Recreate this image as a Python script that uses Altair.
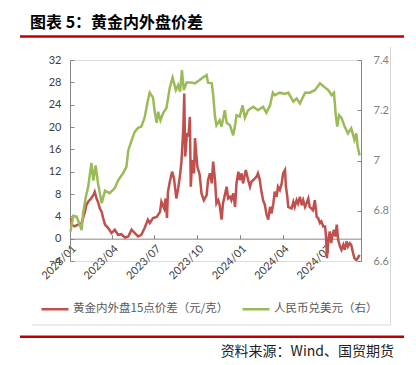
import altair as alt
import pandas as pd

TITLE = "图表 5：黄金内外盘价差"
SOURCE = "资料来源：Wind、国贸期货"
SERIES = ["黄金内外盘15点价差（元/克）", "人民币兑美元（右）"]
COLORS = ["#C0504D", "#9BBB59"]

LEFT_TICKS = [-4, 0, 4, 8, 12, 16, 20, 24, 28, 32]
RIGHT_TICKS = [6.6, 6.8, 7.0, 7.2, 7.4]
X_TICKS = [(2023, 1), (2023, 4), (2023, 7), (2023, 10), (2024, 1), (2024, 4), (2024, 7)]
X_DOMAIN = [(2023, 1, 1), (2024, 9, 16)]

spread_dates = [
    "2023-01-03", "2023-01-05", "2023-01-11", "2023-01-18", "2023-01-26", "2023-01-29",
    "2023-02-02", "2023-02-05", "2023-02-09", "2023-02-15", "2023-02-20", "2023-02-23",
    "2023-02-27", "2023-03-02", "2023-03-06", "2023-03-10", "2023-03-13", "2023-03-17",
    "2023-03-24", "2023-03-31", "2023-04-07", "2023-04-14", "2023-04-21", "2023-04-29",
    "2023-05-06", "2023-05-13", "2023-05-20", "2023-05-27", "2023-06-03", "2023-06-10",
    "2023-06-17", "2023-06-21", "2023-06-28", "2023-07-06", "2023-07-13", "2023-07-16",
    "2023-07-22", "2023-07-25", "2023-07-28", "2023-07-30", "2023-08-03", "2023-08-08",
    "2023-08-12", "2023-08-17", "2023-08-21", "2023-08-25", "2023-08-28", "2023-09-01",
    "2023-09-03", "2023-09-05", "2023-09-09", "2023-09-12", "2023-09-15", "2023-09-17",
    "2023-09-20", "2023-09-24", "2023-09-26", "2023-10-01", "2023-10-06", "2023-10-10",
    "2023-10-15", "2023-10-21", "2023-10-24", "2023-10-28", "2023-11-01", "2023-11-04",
    "2023-11-08", "2023-11-11", "2023-11-15", "2023-11-18", "2023-11-22", "2023-11-25",
    "2023-11-29", "2023-12-03", "2023-12-06", "2023-12-10", "2023-12-13", "2023-12-17",
    "2023-12-21", "2023-12-24", "2023-12-28", "2023-12-31", "2024-01-04", "2024-01-07",
    "2024-01-13", "2024-01-18", "2024-01-22", "2024-01-25", "2024-01-29", "2024-02-05",
    "2024-02-08", "2024-02-12", "2024-02-15", "2024-02-19", "2024-02-23", "2024-02-26",
    "2024-03-01", "2024-03-05", "2024-03-08", "2024-03-12", "2024-03-15", "2024-03-19",
    "2024-03-22", "2024-03-26", "2024-03-30", "2024-04-02", "2024-04-06", "2024-04-08",
    "2024-04-11", "2024-04-13", "2024-04-20", "2024-04-24", "2024-04-27", "2024-05-01",
    "2024-05-04", "2024-05-08", "2024-05-12", "2024-05-15", "2024-05-19", "2024-05-22",
    "2024-05-26", "2024-05-29", "2024-06-05", "2024-06-09", "2024-06-13", "2024-06-16",
    "2024-06-20", "2024-06-23", "2024-06-27", "2024-07-01", "2024-07-03", "2024-07-05",
    "2024-07-08", "2024-07-11", "2024-07-14", "2024-07-17", "2024-07-20", "2024-07-23",
    "2024-07-26", "2024-07-29", "2024-08-02", "2024-08-05", "2024-08-09", "2024-08-12",
    "2024-08-16", "2024-08-19", "2024-08-23", "2024-08-26", "2024-08-30", "2024-09-02",
    "2024-09-06", "2024-09-09", "2024-09-13",
]
spread_values = [
    3.7, 2.5, 2.2, 2.5, 2.8, 3.7,
    4.8, 6.0, 6.6, 7.2, 7.8, 8.4,
    7.2, 6.6, 5.4, 4.8, 3.7, 2.5,
    1.9, 1.0, 1.6, 0.7, 0.8, 0.2,
    0.4, 1.6, 1.0, 0.4, 0.7, 1.9,
    3.4, 2.8, 3.7, 3.9, 4.8, 6.6,
    5.4, 7.2, 3.7, 8.4, 10.2, 12.0,
    10.8, 7.2, 9.0, 11.4, 13.8, 19.8,
    26.0, 14.7, 18.9, 18.3, 21.8, 9.3,
    14.1, 11.7, 18.0, 12.9, 11.5, 8.1,
    6.9, 7.8, 10.5, 11.7, 9.9, 13.8,
    10.5, 6.3, 6.9, 6.0, 3.4, 6.3,
    7.8, 9.3, 7.2, 7.5, 6.9, 8.1,
    5.7, 9.9, 12.0, 10.5, 11.7, 9.9,
    12.3, 10.5, 9.3, 10.2, 10.5, 11.1,
    11.7, 10.5, 8.7, 6.9, 6.0, 4.5,
    3.4, 5.7, 4.5, 6.3, 8.4, 7.5,
    9.3, 8.7, 9.9, 11.7, 12.3, 9.3,
    7.5, 5.7, 5.4, 6.6, 5.7, 6.9,
    6.3, 7.5, 6.0, 6.9, 5.7, 6.3,
    7.2, 5.7, 5.1, 6.9, 3.9, 3.7,
    2.8, 3.1, 2.2, 2.2, 0.4, -3.5,
    -0.2, 1.3, -0.8, 0.7, 1.6, 0.4,
    2.5, -0.2, -1.4, -2.0, -1.1, -2.0,
    -0.5, -1.4, -0.8, -1.1, -2.6, -3.5,
    -3.8, -3.5, -2.9,
]

cny_dates = [
    "2023-01-02", "2023-01-08", "2023-01-15", "2023-01-22", "2023-01-26", "2023-01-29",
    "2023-02-04", "2023-02-09", "2023-02-16", "2023-02-20", "2023-02-25", "2023-03-02",
    "2023-03-10", "2023-03-17", "2023-03-27", "2023-04-07", "2023-04-14", "2023-04-25",
    "2023-05-02", "2023-05-06", "2023-05-13", "2023-05-20", "2023-05-27", "2023-06-03",
    "2023-06-10", "2023-06-17", "2023-06-21", "2023-06-28", "2023-07-02", "2023-07-06",
    "2023-07-09", "2023-07-14", "2023-07-20", "2023-07-27", "2023-08-03", "2023-08-09",
    "2023-08-16", "2023-08-21", "2023-08-25", "2023-08-29", "2023-09-02", "2023-09-08",
    "2023-09-19", "2023-09-26", "2023-10-06", "2023-10-13", "2023-10-21", "2023-10-24",
    "2023-11-01", "2023-11-04", "2023-11-08", "2023-11-11", "2023-11-18", "2023-11-22",
    "2023-11-29", "2023-12-03", "2023-12-10", "2023-12-17", "2023-12-21", "2023-12-24",
    "2023-12-31", "2024-01-06", "2024-01-11", "2024-01-18", "2024-01-29", "2024-02-08",
    "2024-02-19", "2024-02-26", "2024-03-05", "2024-03-11", "2024-03-15", "2024-03-26",
    "2024-04-06", "2024-04-13", "2024-04-24", "2024-05-01", "2024-05-08", "2024-05-19",
    "2024-05-29", "2024-06-09", "2024-06-20", "2024-07-01", "2024-07-08", "2024-07-15",
    "2024-07-20", "2024-07-24", "2024-07-27", "2024-07-31", "2024-08-05", "2024-08-12",
    "2024-08-19", "2024-08-26", "2024-09-02", "2024-09-06", "2024-09-09", "2024-09-13",
]
cny_values = [
    6.717, 6.780, 6.777, 6.743, 6.723, 6.790,
    6.856, 6.896, 6.990, 6.920, 6.980, 6.910,
    6.830, 6.880, 6.870, 6.890, 6.920, 6.950,
    6.975, 7.040, 7.080, 7.115, 7.130, 7.135,
    7.170, 7.240, 7.270, 7.250, 7.190, 7.150,
    7.194, 7.160, 7.190, 7.210, 7.290, 7.330,
    7.280, 7.300, 7.274, 7.360, 7.280, 7.310,
    7.310, 7.307, 7.320, 7.330, 7.340, 7.310,
    7.307, 7.260, 7.174, 7.140, 7.160, 7.135,
    7.200, 7.150, 7.140, 7.100, 7.140, 7.180,
    7.175, 7.220, 7.170, 7.200, 7.214, 7.200,
    7.214, 7.190, 7.220, 7.270, 7.260, 7.270,
    7.265, 7.270, 7.234, 7.247, 7.227, 7.270,
    7.270, 7.280, 7.307, 7.290, 7.280, 7.260,
    7.270, 7.180, 7.135, 7.180, 7.170, 7.135,
    7.108, 7.128, 7.082, 7.108, 7.055, 7.020,
]

spread_df = pd.DataFrame({"date": pd.to_datetime(spread_dates), "value": spread_values,
                          "series": SERIES[0]})
cny_df = pd.DataFrame({"date": pd.to_datetime(cny_dates), "value": cny_values,
                       "series": SERIES[1]})

W, H = 291, 201
ZERO_FROM_TOP = H * (LEFT_TICKS[-1] / (LEFT_TICKS[-1] - LEFT_TICKS[0]))
AXIS_GREY = "#868686"
LABEL_FONT = "Lato"
CJK = "Noto Sans CJK SC"

x_vals = [alt.DateTime(year=y, month=m, date=1) for y, m in X_TICKS]
x_scale = alt.Scale(domain=[alt.DateTime(year=y, month=m, date=d) for y, m, d in X_DOMAIN])
left_scale = alt.Scale(domain=[LEFT_TICKS[0], LEFT_TICKS[-1]], nice=False, zero=False)
right_scale = alt.Scale(domain=[RIGHT_TICKS[0], RIGHT_TICKS[-1]], nice=False, zero=False)
color_scale = alt.Scale(domain=SERIES, range=COLORS)

legend = alt.Legend(
    orient="none", legendX=-30, legendY=234, direction="horizontal", title=None,
    symbolType="stroke", symbolSize=729, symbolStrokeWidth=2.5, labelOffset=3,
    columnPadding=8, labelFont=CJK, labelFontSize=11.5, labelColor="#595959", padding=0,
    labelLimit=400,
)

red = alt.Chart(spread_df).mark_line(strokeWidth=2.5).encode(
    x=alt.X("date:T", scale=x_scale, axis=alt.Axis(
        orient="bottom", offset=-(H - ZERO_FROM_TOP), domain=False, ticks=False,
        labelAngle=-45, format="%Y/%m", values=x_vals, labelFont=LABEL_FONT,
        labelFontSize=11, labelColor="#404040", labelPadding=4, labelFlush=False,
        labelOverlap=False, title=None, grid=False)),
    y=alt.Y("value:Q", scale=left_scale, axis=alt.Axis(
        orient="left", values=LEFT_TICKS, domain=True, domainColor=AXIS_GREY, ticks=False,
        labelPadding=9, labelColor="#404040", labelFont=LABEL_FONT, labelFontSize=11,
        title=None, grid=False)),
    color=alt.Color("series:N", scale=color_scale, legend=legend),
)

green = alt.Chart(cny_df).mark_line(strokeWidth=2.5).encode(
    x=alt.X("date:T", scale=x_scale, axis=alt.Axis(
        orient="top", offset=-ZERO_FROM_TOP, labels=False, domain=True, domainColor=AXIS_GREY,
        ticks=True, tickSize=4, tickColor=AXIS_GREY, values=x_vals, title=None, grid=False)),
    y=alt.Y("value:Q", scale=right_scale, axis=alt.Axis(
        orient="right", values=RIGHT_TICKS, format="~g", domain=True, domainColor=AXIS_GREY,
        ticks=False, labelPadding=12, labelColor="#7F7F7F", labelFont=LABEL_FONT,
        labelFontSize=11, title=None, grid=False)),
    color=alt.Color("series:N", scale=color_scale, legend=legend),
)

left_ticks = alt.Chart(spread_df).mark_line(strokeOpacity=0).encode(
    x=alt.X("date:T", scale=x_scale, axis=None),
    y=alt.Y("value:Q", scale=left_scale, axis=alt.Axis(
        orient="right", offset=-W, values=LEFT_TICKS, labels=False, domain=False,
        ticks=True, tickSize=4, tickColor=AXIS_GREY, title=None, grid=False)),
)
right_ticks = alt.Chart(cny_df).mark_line(strokeOpacity=0).encode(
    x=alt.X("date:T", scale=x_scale, axis=None),
    y=alt.Y("value:Q", scale=right_scale, axis=alt.Axis(
        orient="left", offset=-W, values=RIGHT_TICKS, labels=False, domain=False,
        ticks=True, tickSize=4, tickColor=AXIS_GREY, title=None, grid=False)),
)

title = alt.Chart(pd.DataFrame({"t": [TITLE]})).mark_text(
    align="left", baseline="middle", font=CJK, fontSize=16, fontWeight="bold", color="#000000"
).encode(text="t:N", x=alt.value(-40), y=alt.value(-37.5))

source = alt.Chart(pd.DataFrame({"t": [SOURCE]})).mark_text(
    align="right", baseline="middle", font=CJK, fontSize=14, color="#222222"
).encode(text="t:N", x=alt.value(324), y=alt.value(292))

top_rule = alt.Chart().mark_rule(color="#C00000", strokeWidth=2.5).encode(
    x=alt.value(-50), x2=alt.value(334), y=alt.value(-23.5))
bottom_rule = alt.Chart().mark_rule(color="#C00000", strokeWidth=2.5).encode(
    x=alt.value(-50), x2=alt.value(334), y=alt.value(276.7))
frame_right = alt.Chart().mark_rule(color="#D9D9D9", strokeWidth=1).encode(
    x=alt.value(320.5), y=alt.value(-13), y2=alt.value(265))
frame_bottom = alt.Chart().mark_rule(color="#D9D9D9", strokeWidth=1).encode(
    x=alt.value(-38), x2=alt.value(320.5), y=alt.value(265))

chart = alt.layer(
    left_ticks, right_ticks, red, green,
    title, source, top_rule, bottom_rule, frame_right, frame_bottom,
).resolve_scale(y="independent").resolve_axis(x="independent", y="independent").properties(
    width=W, height=H,
    autosize=alt.AutoSizeParams(type="none"),
    padding={"left": 62, "top": 52, "right": 47, "bottom": 104},
).configure_view(strokeWidth=0).configure(background="#FFFFFF")

chart.save("out.html", embed_options={"renderer": "svg", "actions": False})
